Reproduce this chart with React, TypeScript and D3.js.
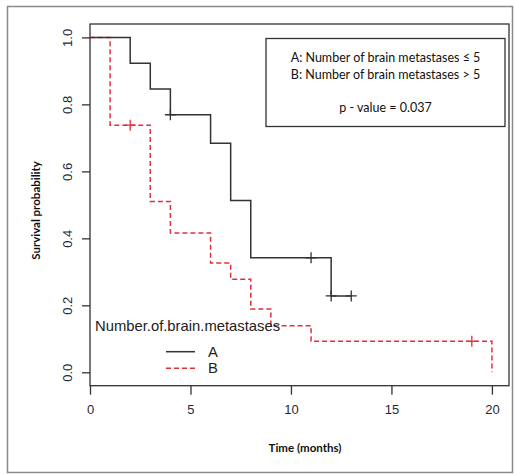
import React, { useEffect, useRef } from 'react';
import * as d3 from 'd3';

interface StepPoint {
  t: number;
  s: number;
}

// Kaplan-Meier steps
const timesA = [0, 2, 3, 4, 6, 7, 8, 12, 13];
const survA = [1, 0.923, 0.846, 0.769, 0.684, 0.513, 0.342, 0.228, 0.228];
const censorTimesA = [4, 11, 12, 13];
const censorSurvA = [0.769, 0.342, 0.228, 0.228];

const timesB = [0, 1, 3, 4, 6, 7, 8, 9, 11, 20];
const survB = [1, 0.738, 0.51, 0.416, 0.326, 0.278, 0.189, 0.139, 0.0925, 0];
const censorTimesB = [2, 19];
const censorSurvB = [0.738, 0.0925];

const xTicks = [0, 5, 10, 15, 20];
const yTicks = [0, 0.2, 0.4, 0.6, 0.8, 1.0];

const infoLines = [
  'A: Number of brain metastases \u2264 5',
  'B: Number of brain metastases > 5',
  '',
  'p - value = 0.037',
];
const legendTitle = 'Number.of.brain.metastases';
const groups = ['A', 'B'];

const BLACK = '#333333';
const RED = '#e0303c';

const App: React.FC = () => {
  const svgRef = useRef<SVGSVGElement>(null);

  useEffect(() => {
    if (!svgRef.current) return;
    const svg = d3.select(svgRef.current);
    svg.selectAll('*').remove();

    const left = 90;
    const right = 509;
    const top = 24;
    const bottom = 385.7;

    const x = d3.scaleLinear().domain([0, 20.85]).range([left, right]);
    const y = d3.scaleLinear().domain([-0.04, 1.04]).range([bottom, top]);

    // outer frame
    svg.append('rect')
      .attr('x', 7.5).attr('y', 6.5)
      .attr('width', 505).attr('height', 466)
      .attr('fill', 'none').attr('stroke', '#8a8a8a').attr('stroke-width', 1.5);

    // plot box
    svg.append('rect')
      .attr('x', left).attr('y', top)
      .attr('width', right - left).attr('height', bottom - top)
      .attr('fill', 'none').attr('stroke', BLACK).attr('stroke-width', 1.3);

    // x axis
    const xAxis = svg.append('g').attr('transform', `translate(0,${bottom})`)
      .call(d3.axisBottom(x).tickValues(xTicks).tickSize(9).tickPadding(10).tickFormat(d3.format('d')));
    xAxis.select('.domain').remove();
    xAxis.selectAll('.tick line').attr('stroke', BLACK).attr('stroke-width', 1.3);
    xAxis.selectAll('.tick text')
      .attr('font-family', 'Liberation Sans, Arial, sans-serif')
      .attr('font-size', 13).attr('fill', '#1e2a3a');

    // y axis
    const yAxis = svg.append('g').attr('transform', `translate(${left},0)`)
      .call(d3.axisLeft(y).tickValues(yTicks).tickSize(8).tickFormat(d3.format('.1f')));
    yAxis.select('.domain').remove();
    yAxis.selectAll('.tick line').attr('stroke', BLACK).attr('stroke-width', 1.3);
    yAxis.selectAll('.tick text')
      .attr('font-family', 'Liberation Sans, Arial, sans-serif')
      .attr('font-size', 13).attr('fill', '#1e2a3a')
      .attr('text-anchor', 'middle')
      .attr('x', 0).attr('dy', 0)
      .attr('transform', 'translate(-23,0) rotate(-90)')
      .attr('dominant-baseline', 'central');

    // axis titles
    svg.append('text')
      .attr('x', 305).attr('y', 452)
      .attr('text-anchor', 'middle')
      .attr('font-family', 'Lato, Open Sans, sans-serif')
      .attr('font-weight', 'bold').attr('font-size', 11.5).attr('fill', '#111')
      .text('Time (months)');
    svg.append('text')
      .attr('transform', 'translate(39.5,210.5) rotate(-90)')
      .attr('text-anchor', 'middle')
      .attr('font-family', 'Lato, Open Sans, sans-serif')
      .attr('font-weight', 'bold').attr('font-size', 11.5).attr('fill', '#111')
      .text('Survival probability');

    const line = d3.line<StepPoint>()
      .x(d => x(d.t))
      .y(d => y(d.s))
      .curve(d3.curveStepAfter);

    const dataA: StepPoint[] = timesA.map((t, i) => ({ t, s: survA[i] }));
    const dataB: StepPoint[] = timesB.map((t, i) => ({ t, s: survB[i] }));

    svg.append('path').datum(dataB)
      .attr('d', line).attr('fill', 'none')
      .attr('stroke', RED).attr('stroke-width', 1.5)
      .attr('stroke-dasharray', '5,3');
    svg.append('path').datum(dataA)
      .attr('d', line).attr('fill', 'none')
      .attr('stroke', BLACK).attr('stroke-width', 1.5);

    const drawCensor = (ts: number[], ss: number[], color: string) => {
      ts.forEach((t, i) => {
        const cx = x(t);
        const cy = y(ss[i]);
        svg.append('path')
          .attr('d', `M${cx - 5.5},${cy}H${cx + 5.5}M${cx},${cy - 5.5}V${cy + 5.5}`)
          .attr('stroke', color).attr('stroke-width', 1.3);
      });
    };
    drawCensor(censorTimesA, censorSurvA, BLACK);
    drawCensor(censorTimesB, censorSurvB, RED);

    // info box
    svg.append('rect')
      .attr('x', 266).attr('y', 38.5)
      .attr('width', 239).attr('height', 88)
      .attr('fill', 'white').attr('stroke', BLACK).attr('stroke-width', 1.3);
    const lineY = [57.5, 74.5, 91, 107.5];
    infoLines.forEach((txt, i) => {
      if (!txt) return;
      svg.append('text')
        .attr('x', 385.5).attr('y', lineY[i])
        .attr('text-anchor', 'middle').attr('dominant-baseline', 'central')
        .attr('font-family', 'Lato, Open Sans, sans-serif')
        .attr('font-size', 12.5).attr('fill', '#111')
        .text(txt);
    });

    // group legend
    svg.append('text')
      .attr('x', 95).attr('y', 326)
      .attr('dominant-baseline', 'central')
      .attr('font-family', 'Liberation Sans, Arial, sans-serif')
      .attr('font-size', 14.8).attr('fill', '#222')
      .text(legendTitle);
    const legendY = [351.7, 368.3];
    groups.forEach((g, i) => {
      svg.append('line')
        .attr('x1', 166).attr('x2', 195)
        .attr('y1', legendY[i]).attr('y2', legendY[i])
        .attr('stroke', i === 0 ? BLACK : RED).attr('stroke-width', 1.5)
        .attr('stroke-dasharray', i === 0 ? null : '5,3');
      svg.append('text')
        .attr('x', 208).attr('y', legendY[i])
        .attr('dominant-baseline', 'central')
        .attr('font-family', 'Liberation Sans, Arial, sans-serif')
        .attr('font-size', 14.8).attr('fill', '#222')
        .text(g);
    });
  }, []);

  return (
    <svg
      ref={svgRef}
      width={514}
      height={474}
      style={{ position: 'absolute', left: 0, top: 0, background: 'white' }}
    />
  );
};

export default App;
